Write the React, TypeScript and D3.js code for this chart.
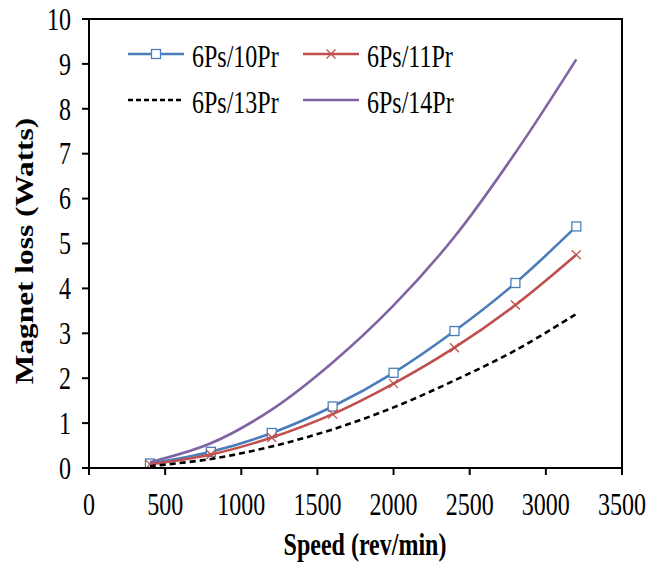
import React from "react";
import * as d3 from "d3";

const speeds = [400, 800, 1200, 1600, 2000, 2400, 2800, 3200];
const loss10Pr = [0.1, 0.36, 0.78, 1.37, 2.12, 3.05, 4.12, 5.38];
const loss11Pr = [0.08, 0.3, 0.68, 1.2, 1.88, 2.68, 3.63, 4.75];
const loss13Pr = [0.04, 0.2, 0.48, 0.86, 1.35, 1.95, 2.62, 3.43];
const loss14Pr = [0.13, 0.55, 1.3, 2.35, 3.62, 5.15, 7.02, 9.1];
const xTicks = [0, 500, 1000, 1500, 2000, 2500, 3000, 3500];
const yTicks = [0, 1, 2, 3, 4, 5, 6, 7, 8, 9, 10];
const seriesNames = ["6Ps/10Pr", "6Ps/11Pr", "6Ps/13Pr", "6Ps/14Pr"];

const W = 649;
const H = 562;
const left = 89, right = 622, top = 19, bottom = 468;
const font = "'Liberation Serif', 'Times New Roman', serif";
const SY = 1.28;

function T(props: {
  x: number;
  y: number;
  anchor?: string;
  size?: number;
  bold?: boolean;
  rotate?: boolean;
  middle?: boolean;
  children: React.ReactNode;
}) {
  const { x, y, anchor = "start", size = 24, bold = false, rotate = false, middle = false } = props;
  const tr = rotate
    ? `translate(${x},${y}) rotate(-90) scale(${SY},1)`
    : `translate(${x},${y}) scale(1,${SY})`;
  return (
    <text
      transform={tr}
      textAnchor={anchor}
      dy={middle ? "0.35em" : undefined}
      fontFamily={font}
      fontSize={size}
      fontWeight={bold ? "bold" : "normal"}
      fill="black"
    >
      {props.children}
    </text>
  );
}

export default function App() {
  const x = d3.scaleLinear().domain([0, 3500]).range([left, right]);
  const y = d3.scaleLinear().domain([0, 10]).range([bottom, top]);
  const line = d3
    .line<[number, number]>()
    .x((d) => x(d[0]))
    .y((d) => y(d[1]))
    .curve(d3.curveCatmullRom.alpha(0.5));
  const pts = (vals: number[]) => speeds.map((s, i) => [s, vals[i]] as [number, number]);

  const series = [
    { name: seriesNames[0], vals: loss10Pr, color: "#4A7EBB", dash: "", marker: "square" },
    { name: seriesNames[1], vals: loss11Pr, color: "#C0504D", dash: "", marker: "x" },
    { name: seriesNames[2], vals: loss13Pr, color: "#000000", dash: "6,4", marker: "" },
    { name: seriesNames[3], vals: loss14Pr, color: "#8064A2", dash: "", marker: "" },
  ];

  const marker = (type: string, cx: number, cy: number, color: string, key: string) => {
    const r = 4.5;
    if (type === "square")
      return (
        <rect key={key} x={cx - r} y={cy - r} width={2 * r} height={2 * r} fill="white" stroke={color} strokeWidth={1.3} />
      );
    if (type === "x")
      return (
        <path key={key} d={`M${cx - r},${cy - r}L${cx + r},${cy + r}M${cx - r},${cy + r}L${cx + r},${cy - r}`} stroke={color} strokeWidth={1.3} />
      );
    return null;
  };

  const legendPos = [
    { x: 128, y: 54 },
    { x: 303, y: 54 },
    { x: 128, y: 100 },
    { x: 303, y: 100 },
  ];

  return (
    <svg width={W} height={H} style={{ display: "block", position: "absolute", left: 0, top: 0 }}>
      <rect width={W} height={H} fill="white" />
      {series.map((s, si) => (
        <g key={si}>
          <path d={line(pts(s.vals)) || ""} fill="none" stroke={s.color} strokeWidth={2.6} strokeDasharray={s.dash} />
          {s.marker && speeds.map((sp, i) => marker(s.marker, x(sp), y(s.vals[i]), s.color, `${si}-${i}`))}
        </g>
      ))}
      <rect x={left} y={top} width={right - left} height={bottom - top} fill="none" stroke="black" strokeWidth={2} />
      {yTicks.map((t) => (
        <g key={"y" + t}>
          <line x1={left - 7} x2={left} y1={y(t)} y2={y(t)} stroke="black" strokeWidth={2} />
          <T x={71} y={y(t)} anchor="end" size={24} middle>
            {t}
          </T>
        </g>
      ))}
      {xTicks.map((t) => (
        <g key={"x" + t}>
          <line x1={x(t)} x2={x(t)} y1={bottom} y2={bottom + 7} stroke="black" strokeWidth={2} />
          <T x={x(t)} y={515} anchor="middle" size={24}>
            {t}
          </T>
        </g>
      ))}
      <T x={365} y={555} anchor="middle" size={24} bold>
        Speed (rev/min)
      </T>
      <T x={33} y={251} anchor="middle" size={24.5} bold rotate>
        Magnet loss (Watts)
      </T>
      {series.map((s, si) => {
        const p = legendPos[si];
        return (
          <g key={"lg" + si}>
            <line x1={p.x} x2={p.x + 56} y1={p.y} y2={p.y} stroke={s.color} strokeWidth={2.6} strokeDasharray={s.dash ? "5,3" : ""} />
            {s.marker && marker(s.marker, p.x + 28, p.y, s.color, "lm" + si)}
            <T x={p.x + 64} y={p.y + 2} size={24} middle>
              {s.name}
            </T>
          </g>
        );
      })}
    </svg>
  );
}
